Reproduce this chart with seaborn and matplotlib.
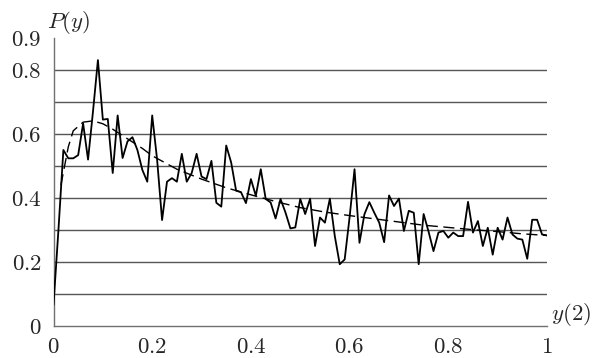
import numpy as np
import pandas as pd
import matplotlib
matplotlib.use("Agg")
import matplotlib.pyplot as plt
import seaborn as sns

# ---- data ----
x_values = np.round(np.arange(0, 101) / 100, 2)
p_observed = [
    0.066, 0.30, 0.55, 0.524, 0.524, 0.534, 0.633, 0.52, 0.67, 0.831,
    0.645, 0.647, 0.478, 0.658, 0.525, 0.577, 0.59, 0.55, 0.488, 0.451,
    0.658, 0.519, 0.331, 0.451, 0.462, 0.451, 0.538, 0.451, 0.478, 0.538,
    0.467, 0.459, 0.516, 0.385, 0.373, 0.564, 0.511, 0.423, 0.418, 0.384,
    0.459, 0.407, 0.49, 0.397, 0.386, 0.336, 0.397, 0.355, 0.305, 0.308,
    0.397, 0.35, 0.398, 0.25, 0.339, 0.323, 0.398, 0.281, 0.193, 0.208,
    0.34, 0.49, 0.26, 0.349, 0.387, 0.354, 0.323, 0.262, 0.408, 0.375,
    0.398, 0.297, 0.36, 0.354, 0.193, 0.35, 0.295, 0.234, 0.292, 0.297,
    0.276, 0.292, 0.281, 0.281, 0.388, 0.292, 0.328, 0.25, 0.307, 0.223,
    0.307, 0.27, 0.339, 0.286, 0.273, 0.27, 0.21, 0.332, 0.332, 0.286,
    0.283,
]
trend_x = [0.015, 0.02, 0.03, 0.04, 0.06, 0.08, 0.10, 0.12, 0.14, 0.16, 0.18,
           0.20, 0.25, 0.30, 0.35, 0.40, 0.45, 0.50, 0.55, 0.60, 0.65,
           0.70, 0.75, 0.80, 0.85, 0.90, 0.95, 1.00]
trend_y = [0.44, 0.48, 0.56, 0.61, 0.637, 0.641, 0.632, 0.615, 0.595, 0.575,
           0.555, 0.532, 0.49, 0.459, 0.432, 0.41, 0.389, 0.37, 0.356, 0.345,
           0.335, 0.325, 0.315, 0.308, 0.301, 0.295, 0.288, 0.283]
x_major = [0, 0.2, 0.4, 0.6, 0.8, 1.0]
x_major_labels = ["$0$", "$0.2$", "$0.4$", "$0.6$", "$0.8$", "$1$"]
x_minor = [0.1, 0.3, 0.5, 0.7, 0.9]
y_major = [0, 0.2, 0.4, 0.6, 0.8, 0.9]
y_major_labels = ["$0$", "$0.2$", "$0.4$", "$0.6$", "$0.8$", "$0.9$"]
y_minor = [0.1, 0.3, 0.5, 0.7]
grid_levels = [0.1, 0.2, 0.3, 0.4, 0.5, 0.6, 0.7, 0.8]

obs = pd.DataFrame({"y": x_values, "P": p_observed})
trend = pd.DataFrame({"y": trend_x, "P": trend_y})

sns.set_style("white")
plt.rcParams["mathtext.fontset"] = "cm"
plt.rcParams["font.family"] = ["DejaVu Serif"]

fig = plt.figure(figsize=(5.94, 3.58), dpi=100)
ax = fig.add_axes([53.5 / 594, 32 / 358, (547 - 53.5) / 594, (326 - 38) / 358])

ax.hlines(grid_levels, 0, 1, colors="#555555", linewidth=1.0, zorder=1)

sns.lineplot(data=obs, x="y", y="P", ax=ax, color="black", linewidth=1.3,
             zorder=3, estimator=None, sort=False)
sns.lineplot(data=trend, x="y", y="P", ax=ax, color="black", linewidth=1.0,
             zorder=4, estimator=None, sort=False, dashes=False)
ax.lines[-1].set_dashes([8, 4])

ax.set_xlim(0, 1)
ax.set_ylim(0, 0.9)
ax.set_xticks(x_major)
ax.set_xticklabels(x_major_labels)
ax.set_xticks(x_minor, minor=True)
ax.set_yticks(y_major)
ax.set_yticklabels(y_major_labels)
ax.set_yticks(y_minor, minor=True)
ax.set_xlabel("")
ax.set_ylabel("")

for s in ["top", "right"]:
    ax.spines[s].set_visible(False)
for s in ["left", "bottom"]:
    ax.spines[s].set_color("#707070")
    ax.spines[s].set_linewidth(1.0)

ax.tick_params(axis="both", which="both", direction="out", length=3.5,
               width=1.0, color="#707070", labelsize=16.5)
ax.tick_params(axis="x", which="both", pad=4)
ax.tick_params(axis="y", which="both", pad=5)

ax.text(-0.013, 0.905, "$P(y)$", fontsize=16.5, ha="left", va="bottom",
        transform=ax.transData)
ax.text(1.008, -0.005, "$y(2)$", fontsize=16.5, ha="left", va="bottom",
        transform=ax.transData)

fig.savefig("out.png", dpi=100)
